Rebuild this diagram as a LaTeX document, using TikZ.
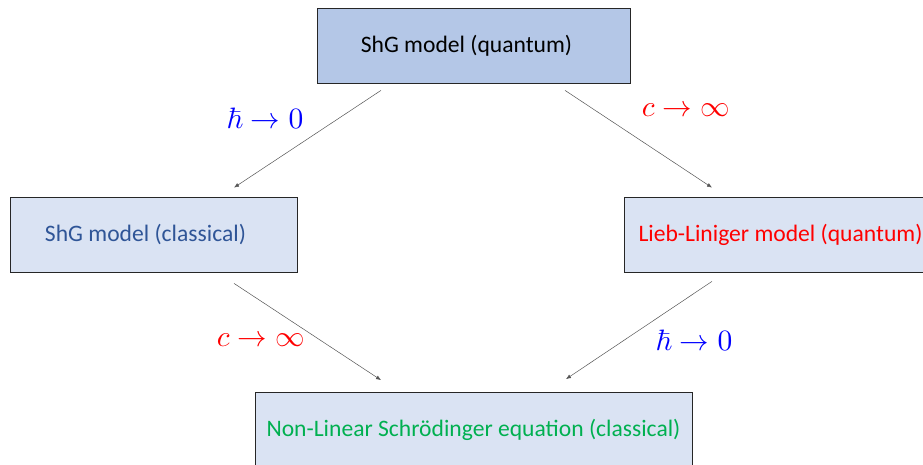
\documentclass[tikz,border=0pt]{standalone}
\usepackage{amsmath,amssymb,graphicx}
\usepackage[no-math]{fontspec}
\setmainfont{Carlito}
\usetikzlibrary{arrows.meta,calc}
\definecolor{quantblue}{RGB}{180,199,231}
\definecolor{paleblue}{RGB}{218,227,243}
\definecolor{classblue}{RGB}{47,85,151}
\definecolor{nlsgreen}{RGB}{0,176,80}
\definecolor{wiregray}{RGB}{85,85,85}
\newcommand{\biglimit}[1]{\scalebox{2.95}{$#1$}}
\tikzset{
  model/.style={draw=black!85,line width=0.8pt,fill=paleblue,minimum height=75pt,
                inner sep=0pt,align=center,font=\fontsize{23.6}{27}\selectfont},
  quantum/.style={model,fill=quantblue},
  limit/.style={-{Latex[length=5pt,width=4pt]},draw=wiregray,line width=0.5pt},
  lab/.style={inner sep=0pt},
}
\begin{document}
\begin{tikzpicture}[x=1pt,y=1pt]
  \path[use as bounding box] (0,0) rectangle (923,465);
  \clip (0,0) rectangle (923,465);

  \node[quantum,minimum width=313pt] (shgq) at (473.5,419.5) {ShG model (quantum)\hspace*{14pt}};
  \node[model,minimum width=287pt,text=classblue] (shgc) at (153.5,230.5) {ShG model (classical)\hspace*{16pt}};
  \node[model,minimum width=313pt,text=red] (llq) at (780.5,230.5) {Lieb-Liniger model (quantum)};
  \node[model,minimum width=437pt,text=nlsgreen] (nls) at (473.5,35.5)
    {Non-Linear Schrödinger equation (classical)};

  \draw[limit] ($(shgq.south)+(-92.5,-7)$) -- ($(shgc.north)+(80.5,9)$);
  \draw[limit] ($(shgq.south)+(91.5,-7)$) -- ($(llq.north)+(-68.5,9)$);
  \draw[limit] ($(shgc.south)+(80.5,-11)$) -- ($(nls.north)+(-92.5,11.5)$);
  \draw[limit] ($(llq.south)+(-68.5,-9)$) -- ($(nls.north)+(92.5,12.5)$);

  \node[lab,text=blue] (hbarl) at (265,347) {\biglimit{\hbar\to0}};
  \node[lab,text=red] (cinfr) at (686,355) {\biglimit{c\to\infty}};
  \node[lab,text=red] (cinfl) at (261,125) {\biglimit{c\to\infty}};
  \node[lab,text=blue] (hbarr) at (694,125) {\biglimit{\hbar\to0}};
\end{tikzpicture}
\end{document}
